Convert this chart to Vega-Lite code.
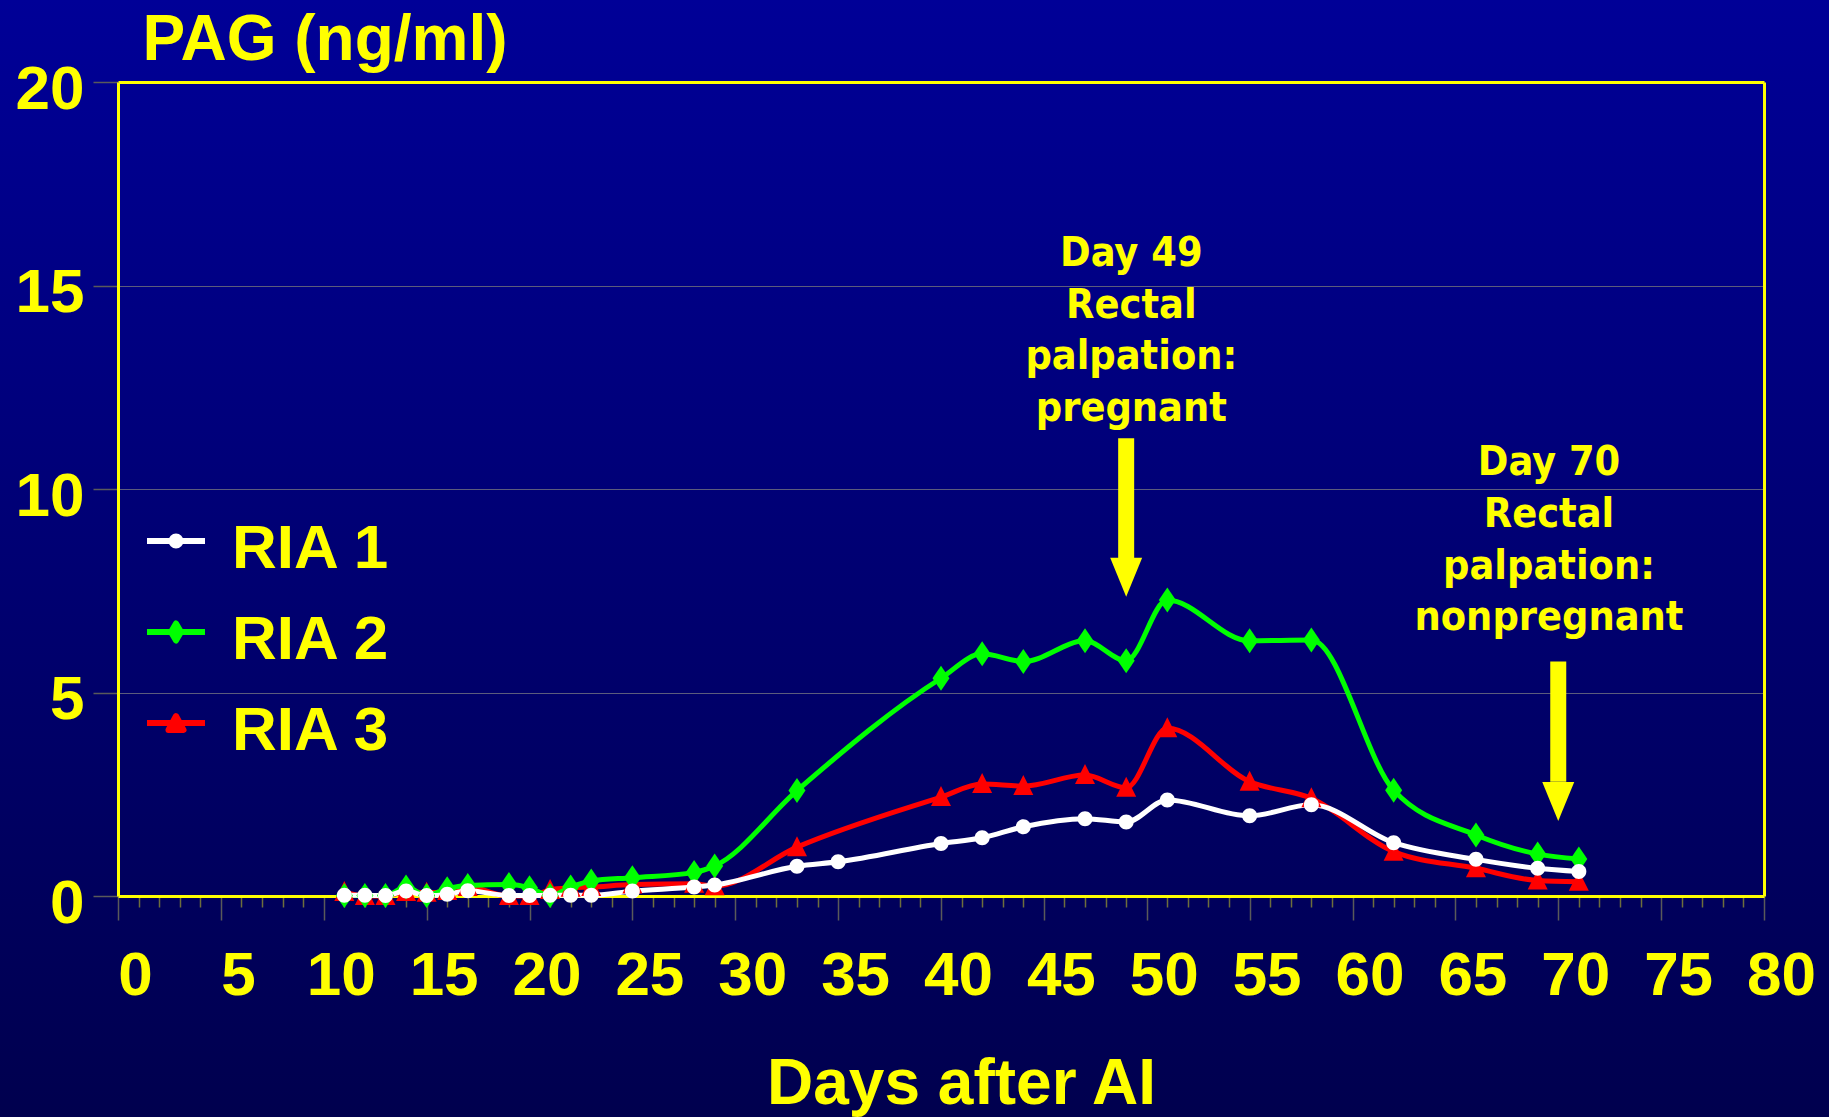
{
  "$schema": "https://vega.github.io/schema/vega-lite/v6.json",
  "width": 1829,
  "height": 1117,
  "autosize": {"type": "none"},
  "padding": 0,
  "background": "#000070",
  "config": {
    "view": {"stroke": null, "fill": {"gradient": "linear", "x1": 0, "y1": 0, "x2": 0, "y2": 1, "stops": [{"offset": 0, "color": "#000097"}, {"offset": 1, "color": "#00004e"}]}},
    "font": "Liberation Sans"
  },
  "resolve": {"axis": {"y": "independent"}},
  "datasets": {
    "series": [
      {"day": 11, "series": "RIA 3", "value": 0.1}, {"day": 12, "series": "RIA 3", "value": 0.0}, {"day": 13, "series": "RIA 3", "value": 0.0}, {"day": 14, "series": "RIA 3", "value": 0.1}, {"day": 15, "series": "RIA 3", "value": 0.08}, {"day": 16, "series": "RIA 3", "value": 0.12}, {"day": 17, "series": "RIA 3", "value": 0.22}, {"day": 19, "series": "RIA 3", "value": 0.0}, {"day": 20, "series": "RIA 3", "value": 0.0}, {"day": 21, "series": "RIA 3", "value": 0.15}, {"day": 22, "series": "RIA 3", "value": 0.2}, {"day": 23, "series": "RIA 3", "value": 0.22}, {"day": 25, "series": "RIA 3", "value": 0.28}, {"day": 28, "series": "RIA 3", "value": 0.3}, {"day": 29, "series": "RIA 3", "value": 0.24}, {"day": 33, "series": "RIA 3", "value": 1.2}, {"day": 40, "series": "RIA 3", "value": 2.43}, {"day": 42, "series": "RIA 3", "value": 2.75}, {"day": 44, "series": "RIA 3", "value": 2.7}, {"day": 47, "series": "RIA 3", "value": 2.97}, {"day": 49, "series": "RIA 3", "value": 2.66}, {"day": 51, "series": "RIA 3", "value": 4.12}, {"day": 55, "series": "RIA 3", "value": 2.81}, {"day": 58, "series": "RIA 3", "value": 2.4}, {"day": 62, "series": "RIA 3", "value": 1.09}, {"day": 66, "series": "RIA 3", "value": 0.68}, {"day": 69, "series": "RIA 3", "value": 0.38}, {"day": 71, "series": "RIA 3", "value": 0.35},
      {"day": 11, "series": "RIA 2", "value": 0.01}, {"day": 12, "series": "RIA 2", "value": 0.01}, {"day": 13, "series": "RIA 2", "value": 0.01}, {"day": 14, "series": "RIA 2", "value": 0.22}, {"day": 15, "series": "RIA 2", "value": 0.01}, {"day": 16, "series": "RIA 2", "value": 0.18}, {"day": 17, "series": "RIA 2", "value": 0.26}, {"day": 19, "series": "RIA 2", "value": 0.28}, {"day": 20, "series": "RIA 2", "value": 0.2}, {"day": 21, "series": "RIA 2", "value": 0.01}, {"day": 22, "series": "RIA 2", "value": 0.22}, {"day": 23, "series": "RIA 2", "value": 0.37}, {"day": 25, "series": "RIA 2", "value": 0.45}, {"day": 28, "series": "RIA 2", "value": 0.58}, {"day": 29, "series": "RIA 2", "value": 0.74}, {"day": 33, "series": "RIA 2", "value": 2.59}, {"day": 40, "series": "RIA 2", "value": 5.35}, {"day": 42, "series": "RIA 2", "value": 5.95}, {"day": 44, "series": "RIA 2", "value": 5.76}, {"day": 47, "series": "RIA 2", "value": 6.27}, {"day": 49, "series": "RIA 2", "value": 5.78}, {"day": 51, "series": "RIA 2", "value": 7.27}, {"day": 55, "series": "RIA 2", "value": 6.27}, {"day": 58, "series": "RIA 2", "value": 6.29}, {"day": 62, "series": "RIA 2", "value": 2.6}, {"day": 66, "series": "RIA 2", "value": 1.5}, {"day": 69, "series": "RIA 2", "value": 1.03}, {"day": 71, "series": "RIA 2", "value": 0.91},
      {"day": 11, "series": "RIA 1", "value": 0.02}, {"day": 12, "series": "RIA 1", "value": 0.02}, {"day": 13, "series": "RIA 1", "value": 0.01}, {"day": 14, "series": "RIA 1", "value": 0.12}, {"day": 15, "series": "RIA 1", "value": 0.01}, {"day": 16, "series": "RIA 1", "value": 0.04}, {"day": 17, "series": "RIA 1", "value": 0.13}, {"day": 19, "series": "RIA 1", "value": 0.01}, {"day": 20, "series": "RIA 1", "value": 0.01}, {"day": 21, "series": "RIA 1", "value": 0.02}, {"day": 22, "series": "RIA 1", "value": 0.02}, {"day": 23, "series": "RIA 1", "value": 0.02}, {"day": 25, "series": "RIA 1", "value": 0.12}, {"day": 28, "series": "RIA 1", "value": 0.22}, {"day": 29, "series": "RIA 1", "value": 0.27}, {"day": 33, "series": "RIA 1", "value": 0.73}, {"day": 35, "series": "RIA 1", "value": 0.84}, {"day": 40, "series": "RIA 1", "value": 1.29}, {"day": 42, "series": "RIA 1", "value": 1.43}, {"day": 44, "series": "RIA 1", "value": 1.7}, {"day": 47, "series": "RIA 1", "value": 1.9}, {"day": 49, "series": "RIA 1", "value": 1.82}, {"day": 51, "series": "RIA 1", "value": 2.36}, {"day": 55, "series": "RIA 1", "value": 1.97}, {"day": 58, "series": "RIA 1", "value": 2.24}, {"day": 62, "series": "RIA 1", "value": 1.31}, {"day": 66, "series": "RIA 1", "value": 0.9}, {"day": 69, "series": "RIA 1", "value": 0.68}, {"day": 71, "series": "RIA 1", "value": 0.6}
    ],
    "notes": [
      {"day": 49.25, "value": 15.48, "label": "Day 49\nRectal\npalpation:\npregnant"},
      {"day": 69.55, "value": 10.34, "label": "Day 70\nRectal\npalpation:\nnonpregnant"}
    ],
    "arrows": [
      {"day": 49, "top": 11.25, "base": 8.3, "head": 7.83},
      {"day": 70, "top": 5.76, "base": 2.81, "head": 2.32}
    ]
  },
  "layer": [
    {
      "data": {"name": "series"},
      "mark": {"type": "line", "interpolate": "monotone", "strokeWidth": 5},
      "encoding": {
        "x": {
          "field": "day", "type": "quantitative",
          "scale": {"domain": [0, 80], "range": [118, 1764], "nice": false, "zero": false},
          "axis": {
            "values": [0,1,2,3,4,5,6,7,8,9,10,11,12,13,14,15,16,17,18,19,20,21,22,23,24,25,26,27,28,29,30,31,32,33,34,35,36,37,38,39,40,41,42,43,44,45,46,47,48,49,50,51,52,53,54,55,56,57,58,59,60,61,62,63,64,65,66,67,68,69,70,71,72,73,74,75,76,77,78,79,80],
            "tickCount": 200,
            "format": "d",
            "offset": -221,
            "domainColor": "#ffff00", "domainWidth": 3,
            "tickColor": {"condition": {"test": "datum.value % 5 === 0", "value": "#5a5a5a"}, "value": "#6e6e3c"},
            "tickSize": {"condition": {"test": "datum.value % 5 === 0", "value": 24}, "value": 11},
            "tickWidth": 1.5,
            "labelExpr": "datum.value % 5 === 0 ? datum.label : ''",
            "labelFont": "Liberation Sans", "labelFontWeight": "bold", "labelFontSize": 62, "labelColor": "#ffff00",
            "labelOffset": 17, "labelPadding": 74, "labelBaseline": "alphabetic",
            "labelOverlap": false, "labelFlush": false, "labelBound": false,
            "grid": false,
            "title": "Days after AI", "titleFont": "Liberation Sans", "titleFontWeight": "bold", "titleFontSize": 64, "titleColor": "#ffff00",
            "titleX": 961, "titleY": 207, "titleBaseline": "alphabetic", "titleAlign": "center", "titleAnchor": null
          }
        },
        "y": {
          "field": "value", "type": "quantitative",
          "scale": {"domain": [0, 20], "range": [896, 82], "nice": false, "zero": false},
          "axis": {
            "values": [0, 5, 10, 15, 20],
            "format": "d",
            "offset": -118,
            "domainColor": "#ffff00", "domainWidth": 3,
            "tickColor": "#5a5a5a", "tickSize": 25, "tickWidth": 1.5,
            "labelFont": "Liberation Sans", "labelFontWeight": "bold", "labelFontSize": 62, "labelColor": "#ffff00",
            "labelPadding": 9, "labelOffset": 7, "labelBound": false, "labelFlush": false, "labelOverlap": false,
            "grid": true,
            "gridColor": {"condition": {"test": "datum.value === 20", "value": "#ffff00"}, "value": "#5c5c7c"},
            "gridWidth": {"condition": {"test": "datum.value === 20", "value": 3}, "value": 1},
            "gridOpacity": {"condition": {"test": "datum.value === 0", "value": 0}, "value": 1},
            "title": "PAG (ng/ml)", "titleFont": "Liberation Sans", "titleFontWeight": "bold", "titleFontSize": 64, "titleColor": "#ffff00",
            "titleAngle": 0, "titleAlign": "left", "titleBaseline": "alphabetic", "titleX": 24, "titleY": 59, "titleAnchor": null
          }
        },
        "color": {
          "field": "series", "type": "nominal",
          "scale": {"domain": ["RIA 1", "RIA 2", "RIA 3"], "range": ["#ffffff", "#00ff00", "#ff0000"]},
          "legend": {
            "orient": "none", "legendX": 144, "legendY": 509, "title": null, "padding": 0, "offset": 0,
            "direction": "vertical",
            "rowPadding": 20, "labelOffset": 24, "symbolSize": 3364, "symbolStrokeWidth": 6, "labelLimit": 400,
            "labelFont": "Liberation Sans", "labelFontWeight": "bold", "labelFontSize": 62, "labelColor": "#ffff00",
            "encode": {
              "symbols": {"update": {
                "shape": {"signal": "datum.value === 'RIA 1' ? 'M-1,0L1,0M0.155,0A0.155,0.155,0,1,1,-0.155,0A0.155,0.155,0,1,1,0.155,0Z' : datum.value === 'RIA 2' ? 'M-1,0L1,0M0,-0.293L0.172,0L0,0.293L-0.172,0Z' : 'M-1,0L1,0M0,-0.24L0.26,0.24L-0.26,0.24Z'"},
                "size": {"value": 3364},
                "fill": {"signal": "datum.value === 'RIA 1' ? '#ffffff' : datum.value === 'RIA 2' ? '#00ff00' : '#ff0000'"},
                "stroke": {"signal": "datum.value === 'RIA 1' ? '#ffffff' : datum.value === 'RIA 2' ? '#00ff00' : '#ff0000'"},
                "strokeWidth": {"value": 6},
                "strokeJoin": {"value": "round"},
                "opacity": {"value": 1},
                "fillOpacity": {"value": 1},
                "strokeOpacity": {"value": 1}
              }},
              "labels": {"update": {"dy": {"value": 8}}}
            }
          }
        }
      }
    },
    {
      "data": {"name": "series"},
      "transform": [{"filter": "datum.series === 'RIA 3'"}],
      "mark": {"type": "point", "filled": true, "opacity": 1, "size": 100, "strokeWidth": 0, "shape": "M0,-2.2L2,1.8L-2,1.8Z"},
      "encoding": {
        "x": {"field": "day", "type": "quantitative"},
        "y": {"field": "value", "type": "quantitative", "axis": null},
        "color": {"field": "series", "type": "nominal"}
      }
    },
    {
      "data": {"name": "series"},
      "transform": [{"filter": "datum.series === 'RIA 2'"}],
      "mark": {"type": "point", "filled": true, "opacity": 1, "size": 100, "strokeWidth": 0, "shape": "M0,-2.5L1.7,0L0,2.5L-1.7,0Z"},
      "encoding": {
        "x": {"field": "day", "type": "quantitative"},
        "y": {"field": "value", "type": "quantitative", "axis": null},
        "color": {"field": "series", "type": "nominal"}
      }
    },
    {
      "data": {"name": "series"},
      "transform": [{"filter": "datum.series === 'RIA 1'"}],
      "mark": {"type": "point", "filled": true, "opacity": 1, "size": 100, "strokeWidth": 0, "shape": "M1.5,0A1.5,1.5,0,1,1,-1.5,0A1.5,1.5,0,1,1,1.5,0Z"},
      "encoding": {
        "x": {"field": "day", "type": "quantitative"},
        "y": {"field": "value", "type": "quantitative", "axis": null},
        "color": {"field": "series", "type": "nominal"}
      }
    },
    {
      "data": {"name": "arrows"},
      "mark": {"type": "rule", "color": "#ffff00", "strokeWidth": 16, "strokeCap": "butt"},
      "encoding": {
        "x": {"field": "day", "type": "quantitative"},
        "y": {"field": "top", "type": "quantitative", "axis": {"orient": "right", "offset": -65, "domainColor": "#ffff00", "domainWidth": 3, "ticks": false, "labels": false, "grid": false, "title": null}},
        "y2": {"field": "base"}
      }
    },
    {
      "data": {"name": "arrows"},
      "mark": {"type": "point", "filled": true, "opacity": 1, "color": "#ffff00", "size": 1521, "shape": "M-0.82,-1L0.82,-1L0,1Z", "strokeWidth": 0},
      "encoding": {
        "x": {"field": "day", "type": "quantitative"},
        "y": {"field": "head", "type": "quantitative", "axis": null}
      }
    },
    {
      "data": {"name": "notes"},
      "mark": {"type": "text", "align": "center", "baseline": "alphabetic", "lineBreak": "\n", "lineHeight": 51.7, "font": "DejaVu Sans Condensed", "fontWeight": "bold", "fontSize": 41, "color": "#ffff00"},
      "encoding": {
        "x": {"field": "day", "type": "quantitative"},
        "y": {"field": "value", "type": "quantitative", "axis": null},
        "text": {"field": "label"}
      }
    }
  ]
}
